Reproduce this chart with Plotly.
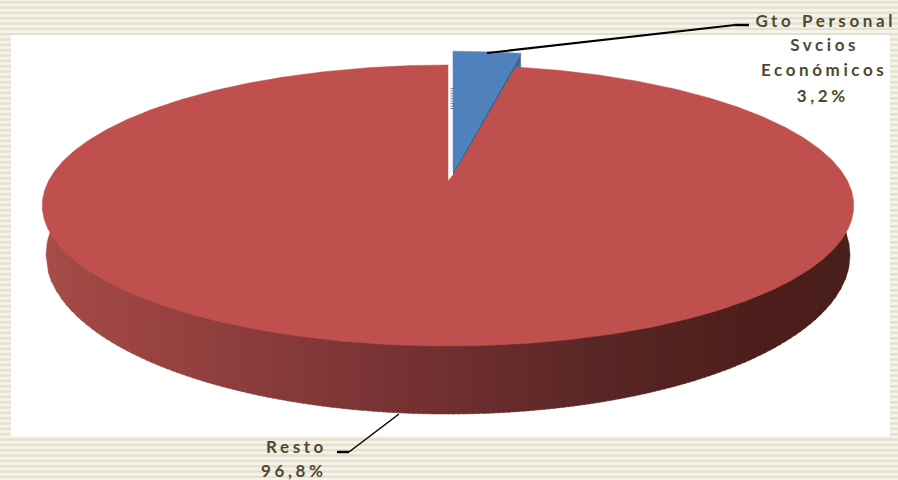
import numpy as np
import plotly.graph_objects as go

categories = ["Gto Personal Svcios Económicos", "Resto"]
shares = [3.2, 96.8]
top_label_lines = ["Gto Personal", "Svcios", "Económicos", "3,2%"]
bottom_label_lines = ["Resto", "96,8%"]

RED, BLUE, BLUE_WALL = "#c0504d", "#4f81bd", "#3d6897"
TEXT = "#4d4a2f"
W, H = 898, 480

# perspective projection of the pie's top plane
CX, CY, BX, AY, K = 448.0, 180.0, 399.0, 135.9, 0.1815


def project(theta, cx=CX, cy=CY, sy=1.0):
    d = 1 + K * np.cos(theta)
    return cx + BX * np.sin(theta) / d, cy - sy * AY * np.cos(theta) / d


sweep = 2 * np.pi * shares[0] / sum(shares)

fig = go.Figure()


def poly(x, y, color):
    fig.add_trace(go.Scatter(x=list(x), y=list(y), mode="lines", fill="toself",
                             fillcolor=color, line=dict(color=color, width=0.5),
                             hoverinfo="skip", showlegend=False))


# wall of the pie: vertical strips under a lower ellipse
WALL_CX, WALL_CY, WALL_RX, WALL_RY = 448.0, 255.0, 402.0, 159.0
stops_x = [46, 100, 300, 450, 600, 750, 850]
stops_c = [(166, 76, 73), (160, 71, 68), (133, 57, 58), (112, 47, 48),
           (89, 39, 37), (77, 31, 28), (74, 30, 27)]
edges = np.linspace(WALL_CX - WALL_RX, WALL_CX + WALL_RX, 161)
for a, b in zip(edges[:-1], edges[1:]):
    xs = np.linspace(a, min(b + 1.0, edges[-1]), 6)
    u = np.clip((xs - WALL_CX) / WALL_RX, -1, 1)
    h = WALL_RY * np.sqrt(1 - u ** 2)
    mid = (a + b) / 2
    rgb = [int(np.interp(mid, stops_x, [c[i] for c in stops_c])) for i in range(3)]
    poly(np.r_[xs, xs[::-1]], np.r_[WALL_CY + h, (WALL_CY - np.minimum(h, 32))[::-1]],
         "rgb(%d,%d,%d)" % tuple(rgb))

# blue slice: wall first, then top face (pulled out of the pie)
BT_X, BT_Y = 453.0, 172.0
t_blue = np.linspace(0, sweep, 30)
bx, by = project(t_blue, cx=BT_X, cy=BT_Y, sy=1.05)
poly([BT_X, bx[-1], bx[-1], BT_X], [BT_Y, by[-1], by[-1] + 14, BT_Y + 6], BLUE_WALL)

# red slice
t_red = np.linspace(sweep, 2 * np.pi, 720)
rx, ry = project(t_red)
poly(np.r_[rx, [448, 453]], np.r_[ry, [181, 175]], RED)

poly(np.r_[BT_X, bx], np.r_[BT_Y, by], BLUE)

# leader lines
fig.add_trace(go.Scatter(x=[487, 735], y=[53, 25], mode="lines",
                         line=dict(color="black", width=2), hoverinfo="skip", showlegend=False))
fig.add_trace(go.Scatter(x=[735, 749], y=[25, 25], mode="lines",
                         line=dict(color="black", width=2.5), hoverinfo="skip", showlegend=False))
fig.add_trace(go.Scatter(x=[399, 349], y=[414, 452], mode="lines",
                         line=dict(color="black", width=1.5), hoverinfo="skip", showlegend=False))
fig.add_trace(go.Scatter(x=[349, 337], y=[452, 452], mode="lines",
                         line=dict(color="black", width=2.5), hoverinfo="skip", showlegend=False))
fig.add_trace(go.Scatter(x=[452, 452], y=[88, 109], mode="lines",
                         line=dict(color="#5f86b5", width=3, dash="1px 1.5px"),
                         hoverinfo="skip", showlegend=False))

# striped page background and the white plot panel
shapes = []
for i in range(90):
    y0 = 1 + i * (16 / 3)
    shapes.append(dict(type="rect", xref="x", yref="y", x0=0, x1=W, y0=y0, y1=y0 + 2.4,
                       fillcolor="#e3e0cd", line=dict(width=0), layer="below"))
shapes.append(dict(type="rect", xref="x", yref="y", x0=11, x1=890, y0=35, y1=436,
                   fillcolor="white", line=dict(width=0), layer="below"))

ann = []
for txt, x, y in zip(top_label_lines, [825, 824, 824, 823], [20, 44, 69, 95]):
    ann.append(dict(x=x, y=y, text=txt))
for txt, x, y in zip(bottom_label_lines, [296, 294], [446, 470]):
    ann.append(dict(x=x, y=y, text=txt))
for a in ann:
    a.update(xref="x", yref="y", showarrow=False, xanchor="center", yanchor="middle",
             font=dict(family="Lato", size=17, color=TEXT, weight="bold"))

fig.update_layout(width=W, height=H, autosize=False, margin=dict(l=0, r=0, t=0, b=0),
                  paper_bgcolor="#f6f4ea", plot_bgcolor="rgba(0,0,0,0)", showlegend=False,
                  shapes=shapes, annotations=ann,
                  xaxis=dict(range=[0, W], visible=False, fixedrange=True),
                  yaxis=dict(range=[H, 0], visible=False, fixedrange=True))

post = """
document.body.style.margin='0';
document.documentElement.style.overflow='hidden';
document.querySelectorAll('.annotation-text').forEach(function(t){
  t.style.letterSpacing='3.6px';
});
"""
fig.write_html("out.html", post_script=post, config=dict(displayModeBar=False))
